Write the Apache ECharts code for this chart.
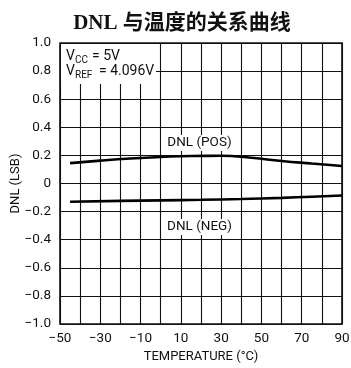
<!DOCTYPE html>
<html><head><meta charset="utf-8">
<script src="https://cdn.jsdelivr.net/npm/echarts@6/dist/echarts.min.js"></script>
<style>html,body{margin:0;padding:0;background:#fff}#c{width:351px;height:368px}</style>
</head><body><div id="c"></div>
<script>
var titleText = 'DNL 与温度的关系曲线';
var xName = 'TEMPERATURE (°C)';
var yName = 'DNL (LSB)';
var posTemp = [-45, -30, -15, 0, 15, 30, 45, 60, 75, 90];
var posDnl  = [0.145, 0.163, 0.178, 0.189, 0.196, 0.197, 0.183, 0.160, 0.142, 0.125];
var negTemp = [-45, -20, 0, 20, 40, 60, 75, 90];
var negDnl  = [-0.130, -0.124, -0.120, -0.116, -0.110, -0.102, -0.094, -0.085];
var posLabel = 'DNL (POS)';
var negLabel = 'DNL (NEG)';

var FONT = 'Roboto, "Liberation Sans", sans-serif';
function pairs(xs, ys){ return xs.map(function(x,i){ return [x, ys[i]]; }); }

var chart = echarts.init(document.getElementById('c'), null, {renderer:'canvas'});
var option = {
  animation:false,
  backgroundColor:'#fff',
  title:{text:titleText, left:177, textAlign:'center', top:8,
    textStyle:{fontFamily:'"Liberation Serif","Noto Sans CJK SC",serif', fontWeight:'bold', fontSize:21, color:'#111'}},
  grid:{left:60, right:9, top:43, bottom:44, show:true, borderColor:'#111', borderWidth:1.6,
    outerBoundsMode:'none', containLabel:false},
  xAxis:{type:'value', min:-50, max:90, interval:10,
    name:xName, nameLocation:'middle', nameGap:26, nameMoveOverlap:false,
    nameTextStyle:{fontFamily:FONT, fontSize:13, color:'#111'},
    axisLine:{show:false}, axisTick:{show:false},
    splitLine:{show:true, lineStyle:{color:'#111', width:1.1}},
    axisLabel:{fontFamily:FONT, fontSize:13.5, color:'#111', margin:8,
      formatter:function(v){ return ((v+50)%20===0) ? String(v).replace('-', '\u2212') : ''; }}},
  yAxis:{type:'value', min:-1, max:1, interval:0.2,
    name:yName, nameLocation:'middle', nameGap:38, nameRotate:90, nameMoveOverlap:false,
    nameTextStyle:{fontFamily:FONT, fontSize:13, color:'#111'},
    axisLine:{show:false}, axisTick:{show:false},
    splitLine:{show:true, lineStyle:{color:'#111', width:1.1}},
    axisLabel:{fontFamily:FONT, fontSize:13.5, color:'#111', margin:9,
      formatter:function(v){ var r=Math.round(v*10)/10; if(r===0) return '0'; return r.toFixed(1).replace('-', '\u2212'); }}},
  series:[
    {type:'line', data:pairs(posTemp,posDnl), smooth:true, showSymbol:false,
      lineStyle:{color:'#000', width:2.6}},
    {type:'line', data:pairs(negTemp,negDnl), smooth:true, showSymbol:false,
      lineStyle:{color:'#000', width:2.6}}
  ],
  graphic:[
    {type:'rect', shape:{x:61, y:44, width:95, height:40}, style:{fill:'#fff'}, z:50},
    {type:'text', x:66, y:56, style:{text:'V', font:'14px '+FONT, fill:'#111', textVerticalAlign:'middle'}, z:51},
    {type:'text', x:75, y:60, style:{text:'CC', font:'10px '+FONT, fill:'#111', textVerticalAlign:'middle'}, z:51},
    {type:'text', x:92, y:56, style:{text:'= 5V', font:'14px '+FONT, fill:'#111', textVerticalAlign:'middle'}, z:51},
    {type:'text', x:66, y:71, style:{text:'V', font:'14px '+FONT, fill:'#111', textVerticalAlign:'middle'}, z:51},
    {type:'text', x:75, y:75, style:{text:'REF', font:'10px '+FONT, fill:'#111', textVerticalAlign:'middle'}, z:51},
    {type:'text', x:99, y:71, style:{text:'= 4.096V', font:'14px '+FONT, fill:'#111', textVerticalAlign:'middle'}, z:51},
    {type:'text', x:199.5, y:143, style:{text:posLabel, font:'13.5px '+FONT, fill:'#111', textAlign:'center', textVerticalAlign:'middle', backgroundColor:'#fff', padding:[1,2]}, z:51},
    {type:'text', x:199.5, y:227, style:{text:negLabel, font:'13.5px '+FONT, fill:'#111', textAlign:'center', textVerticalAlign:'middle', backgroundColor:'#fff', padding:[1,2]}, z:51}
  ]
};
chart.setOption(option);
</script></body></html>
